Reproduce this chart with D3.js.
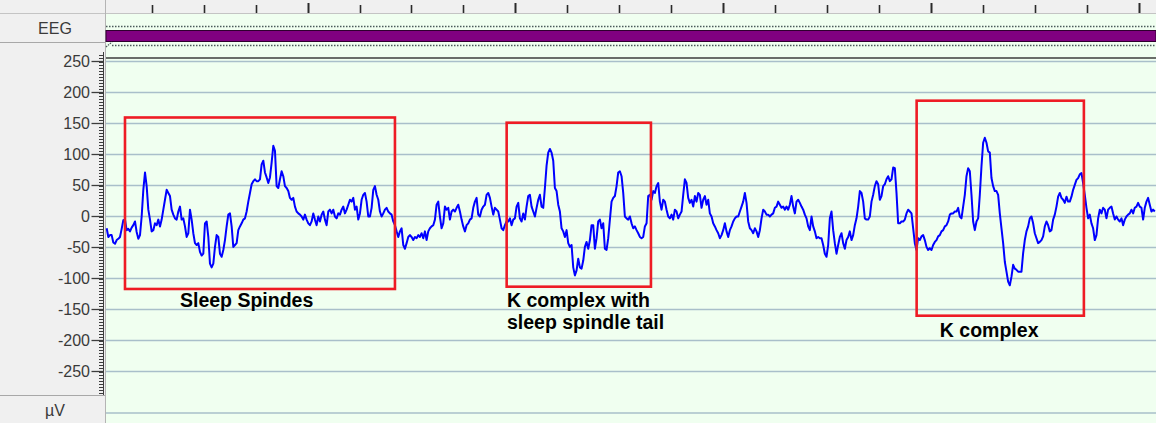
<!DOCTYPE html>
<html><head><meta charset="utf-8">
<script src="https://cdn.jsdelivr.net/npm/d3@7/dist/d3.min.js"></script>
<style>html,body{margin:0;padding:0;background:#fff;overflow:hidden}svg{display:block}</style>
</head><body>
<svg id="c" width="1156" height="423"></svg>
<script>
// ---- data (µV), uniformly sampled ----
const SAMPLE_RATE = 31.18;      // samples per second
const START_TIME = 0.1333;      // s, time of first sample
const eegValues = [
-19,-33,-30,-30,-42,-44,-38,-36,-33,-20,-6,-5,-22,-20,-24,-18,-14,-8,-25,-36,-30,0,
43,71,49,11,-5,-24,-22,-11,-14,-5,-16,-5,11,27,43,38,33,11,3,-3,-5,8,16,-5,-3,-16,-33,-27,11,-5,-27,-43,-46,-43,-57,-63,-60,-11,-8,-33,-76,-82,-76,-49,-30,-33,-60,-65,-54,-38,-16,3,5,-16,-49,-46,-43,-22,-16,-11,-5,-3,8,24,38,52,57,60,57,57,60,84,90,71,63,54,63,87,114,106,49,46,60,73,65,49,46,41,30,27,30,16,8,5,3,0,-5,3,-5,-11,-14,-8,5,-5,-14,0,-8,3,8,-5,-14,8,11,5,11,0,-3,5,3,11,16,5,11,19,27,24,30,11,16,-5,5,27,35,38,24,0,
0,14,43,49,35,27,8,0,5,11,14,8,5,3,-8,-14,-24,-33,-24,-19,-46,-52,-43,-33,-30,-33,-38,-33,-35,-30,-33,-27,-35,-24,-38,-24,-19,-16,-14,-5,19,24,0,-19,-11,16,11,14,-5,8,11,8,14,19,8,-5,-16,-24,-14,-11,-5,-3,14,24,30,3,0,11,16,19,35,38,30,16,3,14,11,8,-5,-19,-22,-14,-8,-8,-3,-14,-5,-3,16,22,-3,-8,5,-5,16,33,35,16,8,0,14,27,35,16,14,46,82,103,109,103,90,46,41,19,8,-19,-24,-33,-22,-43,-49,-46,-82,-95,-87,-68,-82,-84,-71,-49,-41,-52,-38,-14,-14,-52,-35,-8,-5,-19,-11,-52,-54,-35,-5,24,30,33,49,71,73,65,38,0,-3,-5,0,
-11,-19,-16,-22,-27,-33,-35,-33,-16,-11,33,35,27,41,38,49,54,24,11,27,24,11,0,-3,3,-5,11,8,-3,3,8,35,60,54,30,22,27,16,33,24,38,35,14,27,33,19,27,5,0,-11,-16,-22,-27,-35,-30,-22,-11,-24,-33,-22,-16,-8,-3,0,0,8,16,24,38,22,-8,-19,-22,-27,-19,-24,-33,-22,-3,11,8,3,3,0,3,5,14,16,24,19,14,16,11,16,11,19,33,16,5,24,27,22,16,11,3,-3,-16,-22,0,-16,-24,-35,-33,-35,-35,-46,-60,-65,-46,-3,8,-22,-43,-60,-46,-33,-27,-43,-52,-38,-33,-24,-38,-30,-14,-3,16,41,38,24,-3,-5,-5,0,24,35,49,57,52,27,33,49,52,60,65,57,60,79,
78,38,-11,-11,-8,-8,-5,5,11,8,5,-19,-43,-54,-35,-38,-32,-30,-38,-49,-54,-51,-54,-46,-41,-38,-32,-30,-24,-22,-16,-14,-8,3,5,5,8,8,14,0,-3,16,35,65,78,73,35,-8,-22,-8,-3,35,81,119,127,119,105,103,62,49,41,41,35,5,-19,-43,-73,-89,-105,-111,-97,-78,-84,-86,-89,-89,-89,-59,-38,-24,-16,-3,0,-11,-27,-35,-43,-41,-38,-32,-16,-8,-14,-24,-22,-5,3,16,32,38,30,27,22,32,24,24,32,43,51,59,62,68,70,54,35,14,-3,3,-11,-19,-38,-30,-3,11,5,14,11,-3,11,14,16,5,-5,0,-5,-8,-3,-14,-5,0,3,5,11,5,14,16,22,16,14,-5,14,24,30,19,8,11,8
];
const yTickValues = [250, 200, 150, 100, 50, 0, -50, -100, -150, -200, -250];
const rulerSeconds = d3.range(1, 21);
const channelName = "EEG";
const unitLabel = "µV";
// annotation boxes: [t0, t1] seconds, [vTop, vBottom] µV
const boxStart = [0.486, 7.832, 15.723];
const boxEnd   = [5.682, 10.609, 18.942];
const boxTop   = [159.7, 151.3, 186.8];
const boxBottom= [-116.9, -113.2, -160];
const noteLines = [
  ["Sleep Spindes"],
  ["K complex with", "sleep spindle tail"],
  ["K complex"]
];
const noteTime = [1.545, 7.838, 16.17];
const noteValue = [-146, -146, -194];

// ---- layout ----
const W = 1156, H = 423, PL = 106;
const svg = d3.select("#c");
const x = d3.scaleLinear().domain([0.1205, 20.33]).range([PL, W]);
const y = d3.scaleLinear().domain([-250, 250]).range([371.5, 61.5]);
const FONT = "Liberation Sans, Arial, sans-serif";

// backgrounds
svg.append("rect").attr("x", PL).attr("y", 0).attr("width", W - PL).attr("height", H).attr("fill", "#f0fff0");
svg.append("rect").attr("x", 0).attr("y", 0).attr("width", PL).attr("height", H).attr("fill", "#f0f0f0");
svg.append("rect").attr("x", PL).attr("y", 0).attr("width", W - PL).attr("height", 13).attr("fill", "#f0f0f0");
svg.append("line").attr("x1", 0).attr("x2", W).attr("y1", 13.5).attr("y2", 13.5).attr("stroke", "#c4c4c4");
svg.append("line").attr("x1", 105.5).attr("x2", 105.5).attr("y1", 0).attr("y2", H).attr("stroke", "#b4b4b4");
svg.append("line").attr("x1", 0).attr("x2", 105).attr("y1", 42.5).attr("y2", 42.5).attr("stroke", "#a8a8a8");
svg.append("line").attr("x1", 0).attr("x2", 105).attr("y1", 395.5).attr("y2", 395.5).attr("stroke", "#a8a8a8");

// ruler ticks
svg.append("g").selectAll("line").data(rulerSeconds).join("line")
  .attr("x1", d => Math.round(x(d)) + 0.5).attr("x2", d => Math.round(x(d)) + 0.5)
  .attr("y1", d => d % 4 === 0 ? 3 : 5).attr("y2", 13)
  .attr("stroke", "#2a2a2a").attr("stroke-width", d => d % 4 === 0 ? 2 : 1.6);

// channel band
svg.append("line").attr("x1", PL).attr("x2", W).attr("y1", 26.5).attr("y2", 26.5)
  .attr("stroke", "#4a5a5a").attr("stroke-width", 1.5).attr("stroke-dasharray", "1.5,1.5");
svg.append("rect").attr("x", PL).attr("y", 30.5).attr("width", W - PL).attr("height", 11)
  .attr("fill", "#800080").attr("stroke", "#2e002e").attr("stroke-width", 1);
svg.append("line").attr("x1", PL + 6).attr("x2", W).attr("y1", 45.5).attr("y2", 45.5)
  .attr("stroke", "#4a5a5a").attr("stroke-width", 1.5).attr("stroke-dasharray", "1.5,1.5");
svg.append("line").attr("x1", PL).attr("x2", PL + 6).attr("y1", 47).attr("y2", 42)
  .attr("stroke", "#4a5a5a").attr("stroke-width", 1.2).attr("stroke-dasharray", "1.5,1");
svg.append("line").attr("x1", PL).attr("x2", W).attr("y1", 58).attr("y2", 58)
  .attr("stroke", "#3c3c3c").attr("stroke-width", 1.4);

// gridlines
svg.append("g").selectAll("line").data(yTickValues).join("line")
  .attr("x1", PL).attr("x2", W).attr("y1", d => y(d)).attr("y2", d => y(d))
  .attr("stroke", "#a9bfca").attr("stroke-width", 1.7);
svg.append("line").attr("x1", PL).attr("x2", W).attr("y1", 413).attr("y2", 413)
  .attr("stroke", "#a9bfca").attr("stroke-width", 1.7);

// y axis (custom left-side ticks)
const minor = d3.range(-285, 261, 5);
svg.append("g").selectAll("line").data(minor).join("line")
  .attr("x1", 99).attr("x2", 104).attr("y1", d => Math.round(y(d)) + 0.5).attr("y2", d => Math.round(y(d)) + 0.5)
  .attr("stroke", "#3c3c3c").attr("stroke-width", 1);
svg.append("g").selectAll("line").data(yTickValues).join("line")
  .attr("x1", 91.5).attr("x2", 104).attr("y1", d => y(d)).attr("y2", d => y(d))
  .attr("stroke", "#3c3c3c").attr("stroke-width", 1.3);
svg.append("line").attr("x1", 103.5).attr("x2", 103.5).attr("y1", 52).attr("y2", 395)
  .attr("stroke", "#3c3c3c").attr("stroke-width", 1);
svg.append("g").selectAll("text").data(yTickValues).join("text")
  .attr("x", 90).attr("y", d => y(d) + 5).attr("text-anchor", "end")
  .attr("font-family", FONT).attr("font-size", 16)
  .attr("fill", "#3a3a3a").text(d => d);

svg.append("text").attr("x", 55).attr("y", 34).attr("text-anchor", "middle")
  .attr("font-family", FONT).attr("font-size", 16)
  .attr("fill", "#3a3a3a").text(channelName);
svg.append("text").attr("x", 55).attr("y", 416).attr("text-anchor", "middle")
  .attr("font-family", FONT).attr("font-size", 16)
  .attr("fill", "#3a3a3a").text(unitLabel);

// trace
const pts = eegValues.map((v, i) => [START_TIME + i / SAMPLE_RATE, v]);
svg.append("path").datum(pts)
  .attr("d", d3.line().x(d => x(d[0])).y(d => y(d[1])))
  .attr("fill", "none").attr("stroke", "#0000ff").attr("stroke-width", 2)
  .attr("stroke-linejoin", "round");

// annotation boxes
svg.append("g").selectAll("rect").data(boxStart.map((s, i) => i)).join("rect")
  .attr("x", i => x(boxStart[i])).attr("y", i => y(boxTop[i]))
  .attr("width", i => x(boxEnd[i]) - x(boxStart[i]))
  .attr("height", i => y(boxBottom[i]) - y(boxTop[i]))
  .attr("fill", "none").attr("stroke", "#ee1c24").attr("stroke-width", 2.6);

// notes
noteLines.forEach((lines, i) => {
  const t = svg.append("text").attr("x", x(noteTime[i])).attr("y", y(noteValue[i]))
    .attr("font-family", FONT).attr("font-size", 19.5)
    .attr("font-weight", "bold").attr("fill", "#000");
  lines.forEach((l, j) => t.append("tspan").attr("x", x(noteTime[i])).attr("dy", j ? 22 : 0).text(l));
});
</script>
</body></html>
